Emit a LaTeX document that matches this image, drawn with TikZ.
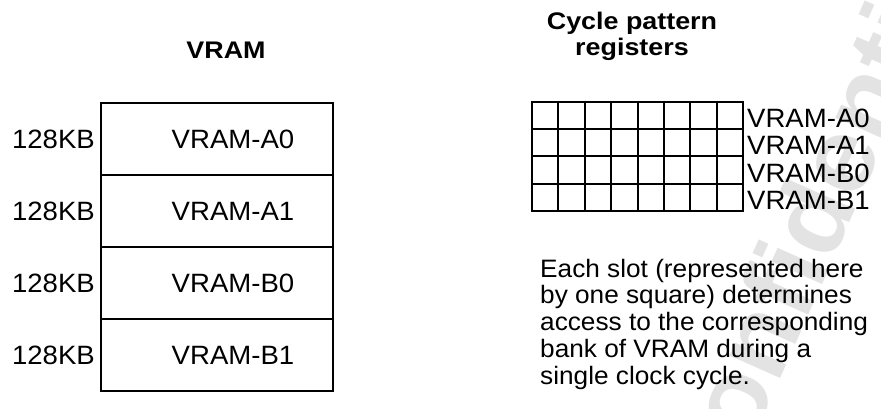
\documentclass[tikz,border=0pt]{standalone}
\usepackage{fontspec}
\setmainfont{Liberation Sans}[FakeStretch=1.04]
\newfontfamily\headfont{Liberation Sans}[FakeStretch=1.12]
\usetikzlibrary{calc}
\begin{document}
\begin{tikzpicture}[x=1pt,y=-1pt,
  txt/.style={font=\fontsize{26.5}{28}\selectfont, inner sep=0pt},
  notetxt/.style={font=\fontsize{25.2}{26.7}\selectfont, inner sep=0pt},
  ttl/.style={font=\headfont\fontsize{24}{26}\selectfont\bfseries, align=center, inner sep=0pt},
  bank/.style={draw, line width=2pt, minimum width=232pt, minimum height=72pt, inner sep=0pt},
  slot/.style={line width=2pt},
  wmark/.style={text=black!11, font=\fontsize{105}{105}\selectfont\bfseries, inner sep=0pt}]
\useasboundingbox (0,0) rectangle (881,409);

% watermark behind everything
\node[wmark, rotate=66] (wm) at (812,215) {Confidential};

% VRAM banks
\node[ttl] (vramttl) at (226,50) {VRAM};
\foreach \n/\y in {A0/139, A1/211, B0/283, B1/355}{
  \node[bank] (box\n) at (217,\y) {};
  \node[txt] (name\n) at (233,\y) {VRAM-\n};
  \node[txt, anchor=east] (size\n) at (95,\y) {128KB};
}

% cycle pattern registers
\node[ttl] (cycttl) at (632,36) {Cycle pattern\\registers};
\coordinate (gnw) at (532,102);
\foreach \i in {0,...,4}
  \draw[slot] ($(gnw)+(0,\i*27.25)$) -- ++(211,0);
\foreach \j in {0,...,8}
  \draw[slot] ($(gnw)+(\j*26.375,-1)$) -- ++(0,111);
\foreach \n/\k in {A0/1, A1/2, B0/3, B1/4}
  \node[txt, anchor=base west] (reg\n) at (747,{102+\k*27.25-1.5}) {VRAM-\n};

% explanation (anchored at the baseline of its last line)
\node[notetxt, anchor=base west, align=left] (note) at (540,384)
  {Each slot (represented here\\by one square) determines\\access to the corresponding\\bank of VRAM during a\\single clock cycle.};
\end{tikzpicture}
\end{document}
